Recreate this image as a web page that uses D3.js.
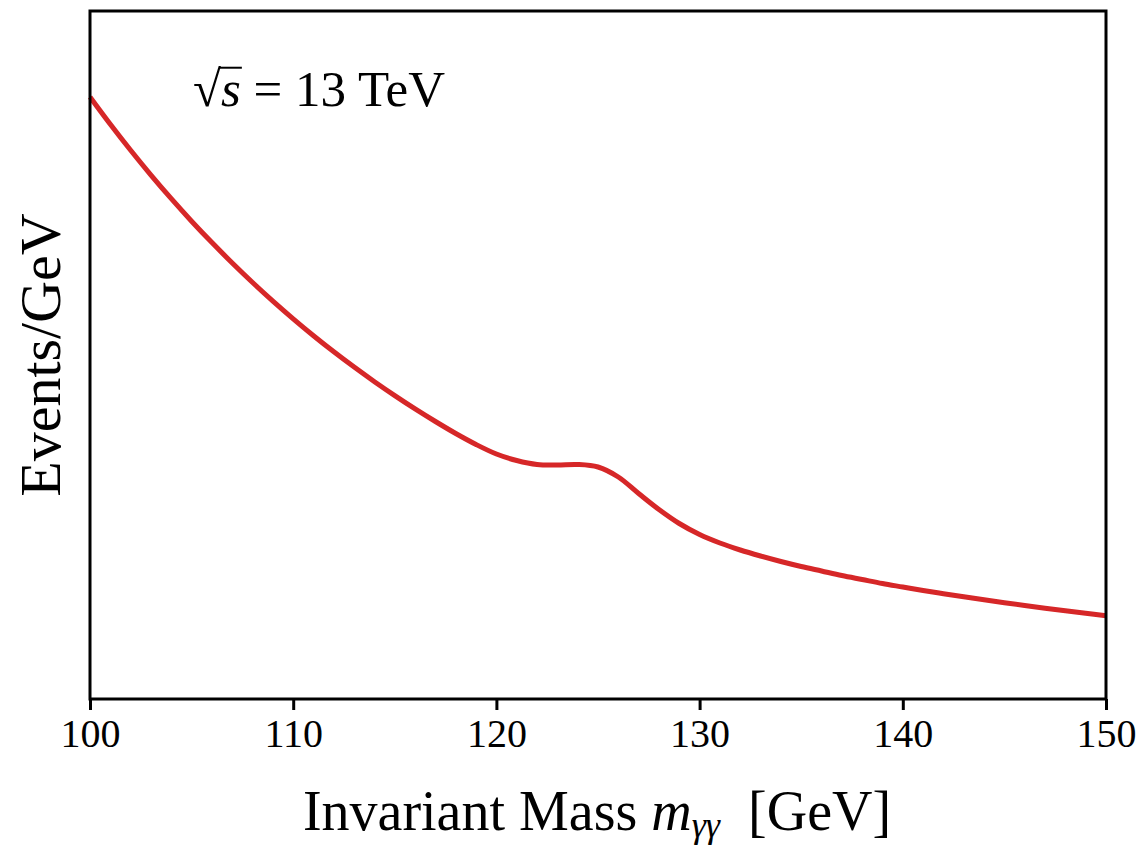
<!DOCTYPE html>
<html>
<head>
<meta charset="utf-8">
<script src="https://cdn.jsdelivr.net/npm/d3@7"></script>
<style>
  body { margin: 0; background: #fff; }
  text { font-family: "Liberation Serif", "DejaVu Serif", serif; fill: #000; }
</style>
</head>
<body>
<div id="chart"></div>
<script>
// invariant mass grid (GeV) and background+signal shape (arbitrary units)
const masses = [100,101,102,103,104,105,106,107,108,109,110,111,112,113,114,115,116,117,118,119,120,
                121,122,123,124,125,126,127,128,129,130,131,132,133,134,135,136,137,138,139,140,
                141,142,143,144,145,146,147,148,149,150];
const events = [602,574.7,548.7,523.9,500.3,477.8,456.4,436.0,416.5,397.9,380.2,
                363.3,347.2,331.9,317.3,303.4,290.1,277.5,265.5,254.5,245,
                238.5,234.5,234,234.5,232,222,205.5,189.5,175.5,164.5,
                156,149,143,137.5,132.5,128,123.5,119.5,115.5,112,
                108.5,105.3,102.2,99.2,96.3,93.5,90.8,88.2,85.7,83.3];
const xTicks = [100,110,120,130,140,150];

const width = 1148, height = 848;
const margin = {top: 11, right: 42, bottom: 149, left: 90};

const svg = d3.select("#chart").append("svg")
  .attr("width", width)
  .attr("height", height);

const x = d3.scaleLinear().domain([100, 150]).range([margin.left, width - margin.right]);
const y = d3.scaleLinear().domain([0, 688]).range([height - margin.bottom, margin.top]);

// curve
const line = d3.line()
  .x((d, i) => x(masses[i]))
  .y(d => y(d))
  .curve(d3.curveCatmullRom);

svg.append("path")
  .datum(events)
  .attr("fill", "none")
  .attr("stroke", "#d62728")
  .attr("stroke-width", 5)
  .attr("d", line);

// frame
svg.append("rect")
  .attr("x", margin.left)
  .attr("y", margin.top)
  .attr("width", width - margin.right - margin.left)
  .attr("height", height - margin.bottom - margin.top)
  .attr("fill", "none")
  .attr("stroke", "#000")
  .attr("stroke-width", 3);

// bottom axis
const xAxis = svg.append("g")
  .attr("transform", "translate(0," + (height - margin.bottom) + ")")
  .call(d3.axisBottom(x).tickValues(xTicks).tickSize(11).tickPadding(9).tickSizeOuter(0));
xAxis.select(".domain").remove();
xAxis.selectAll(".tick line").attr("stroke", "#000").attr("stroke-width", 3);
xAxis.selectAll(".tick text")
  .style("font-family", '"Liberation Serif", serif')
  .style("font-size", "40px");

// x label
const xl = svg.append("text")
  .attr("x", 597)
  .attr("y", 830)
  .attr("text-anchor", "middle")
  .style("font-size", "56px");
xl.append("tspan").text("Invariant Mass ");
xl.append("tspan").style("font-style", "italic").text("m");
xl.append("tspan").attr("dy", 7).style("font-size", "36px").style("font-style", "italic").text("γγ");
xl.append("tspan").attr("dy", -7).text("\u2002[GeV]");

// y label
svg.append("text")
  .attr("transform", "translate(60," + 355 + ") rotate(-90)")
  .attr("text-anchor", "middle")
  .style("font-size", "58px")
  .text("Events/GeV");

// sqrt(s) annotation
const ann = svg.append("text")
  .attr("x", 193)
  .attr("y", 106)
  .style("font-size", "51px");
ann.append("tspan").text("\u221A");
ann.append("tspan").style("font-style", "italic").text("s");
ann.append("tspan").text(" = 13 TeV");

// radical bar over s
const r0 = ann.node().getExtentOfChar(0);
const r1 = ann.node().getExtentOfChar(1);
const barY = r0.y + r0.height * 0.12;
svg.append("line")
  .attr("x1", r0.x + r0.width - 2)
  .attr("x2", r1.x + r1.width + 1)
  .attr("y1", barY)
  .attr("y2", barY)
  .attr("stroke", "#000")
  .attr("stroke-width", 2);
</script>
</body>
</html>
